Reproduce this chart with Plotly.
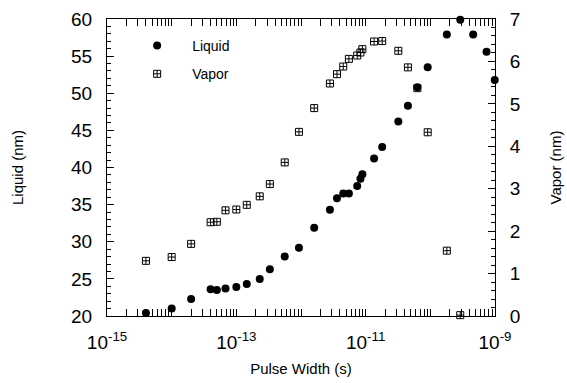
import plotly.graph_objects as go

# Pulse widths (s) for each measurement
pulse_width = [4e-15, 1e-14, 2e-14, 4e-14, 5e-14, 6.8e-14, 1e-13, 1.45e-13, 2.3e-13,
               3.3e-13, 5.6e-13, 9.3e-13, 1.6e-12, 2.8e-12, 3.6e-12, 4.5e-12, 5.5e-12,
               7.4e-12, 8.3e-12, 8.9e-12, 1.35e-11, 1.8e-11, 3.2e-11, 4.5e-11, 6.3e-11,
               9.1e-11, 1.8e-10, 2.9e-10, 4.6e-10, 7.4e-10, 9.9e-10]

# Liquid layer thickness (nm), left axis
liquid_nm = [20.4, 21.0, 22.3, 23.6, 23.5, 23.7, 23.9, 24.3, 25.0, 26.3, 28.0, 29.2,
             31.9, 34.3, 35.85, 36.5, 36.5, 37.5, 38.5, 39.1, 41.2, 42.75, 46.2, 48.3,
             50.8, 53.5, 57.9, 59.9, 57.9, 55.6, 51.8]

# Vapor layer thickness (nm), right axis (no values for the three longest pulses)
vapor_x = pulse_width[:28]
vapor_nm = [1.30, 1.39, 1.70, 2.21, 2.22, 2.49, 2.51, 2.62, 2.82, 3.11, 3.62, 4.34,
            4.90, 5.48, 5.70, 5.88, 6.06, 6.14, 6.21, 6.29, 6.47, 6.48, 6.25, 5.86,
            5.37, 4.33, 1.54, 0.02]

decades = [10.0 ** e for e in range(-15, -8)]
decade_labels = ["10<sup>-15</sup>", "", "10<sup>-13</sup>", "", "10<sup>-11</sup>", "", "10<sup>-9</sup>"]
minor_vals = [k * 10.0 ** e for e in range(-15, -9) for k in range(2, 10)]

font_family = "Liberation Sans, Arial, sans-serif"

fig = go.Figure()
fig.add_trace(go.Scatter(
    x=pulse_width, y=liquid_nm, mode="markers", name="Liquid", legendgroup="liquid",
    marker=dict(symbol="circle", size=8, color="black"),
    cliponaxis=False, yaxis="y"))
fig.add_trace(go.Scatter(
    x=vapor_x, y=vapor_nm, mode="markers", name="Vapor", legendgroup="vapor",
    marker=dict(symbol="square-cross-open", size=7, color="black", line=dict(width=1)),
    cliponaxis=False, yaxis="y2"))

axis_common = dict(showline=True, linecolor="black", linewidth=1, ticks="inside",
                   tickcolor="black", showgrid=False, zeroline=False, automargin=False,
                   tickfont=dict(family=font_family, size=19, color="black"))

fig.update_layout(
    width=567, height=383,
    margin=dict(l=107, r=72, t=19, b=67),
    paper_bgcolor="white", plot_bgcolor="white",
    font=dict(family=font_family, color="black"),
    xaxis=dict(type="log", range=[-15, -9], tickmode="array", tickvals=decades,
               ticktext=decade_labels, ticklen=7, mirror="allticks",
               ticklabelstandoff=9,
               minor=dict(tickmode="array", tickvals=minor_vals, ticks="inside",
                          ticklen=4, tickcolor="black"),
               title=dict(text="Pulse Width (s)", font=dict(size=15), standoff=11),
               **axis_common),
    yaxis=dict(range=[20, 60], tickmode="linear", tick0=20, dtick=5, ticklen=7,
               ticklabelstandoff=10,
               minor=dict(dtick=1, ticks="inside", ticklen=4, tickcolor="black"),
               title=dict(text="Liquid (nm)", font=dict(size=15), standoff=43),
               **axis_common),
    yaxis2=dict(range=[0, 7], overlaying="y", side="right", tickmode="linear",
                tick0=0, dtick=1, ticklen=7, ticklabelstandoff=10,
                minor=dict(dtick=0.2, ticks="inside", ticklen=4, tickcolor="black"),
                title=dict(text="Vapor (nm)", font=dict(size=15), standoff=30),
                **axis_common),
    legend=dict(x=0.039, y=0.963, xanchor="left", yanchor="top", bgcolor="rgba(0,0,0,0)",
                font=dict(size=14), itemwidth=60, traceorder="grouped", tracegroupgap=7),
    showlegend=True,
)

fig.write_html("out.html")
